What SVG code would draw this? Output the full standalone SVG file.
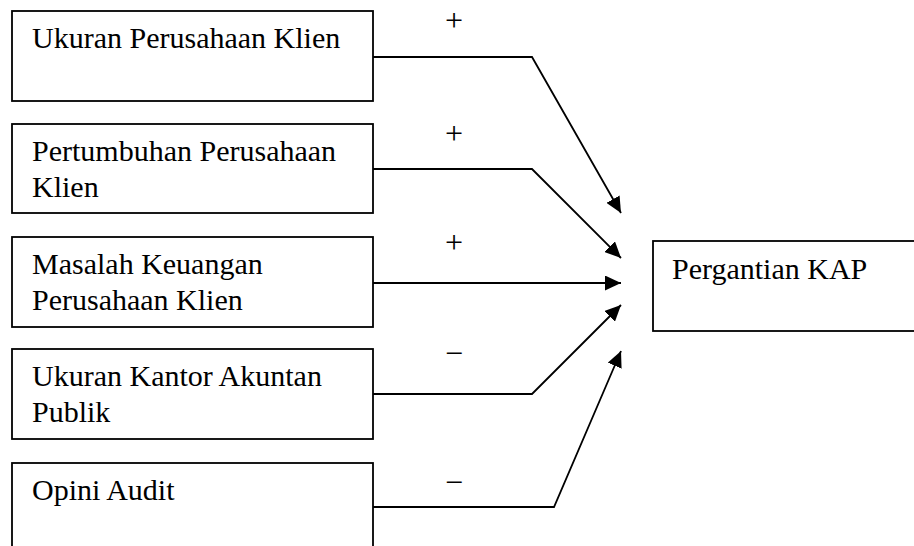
<svg xmlns="http://www.w3.org/2000/svg" width="914" height="546" viewBox="0 0 914 546">
  <style>
    .box { fill: #ffffff; stroke: #000000; stroke-width: 1.8; }
    .lbl { font-family: "Liberation Serif", "Times New Roman", serif; font-size: 30px; fill: #000000; }
    .sign { font-family: "Liberation Serif", "Times New Roman", serif; font-size: 32px; fill: #000000; text-anchor: middle; }
    .conn { fill: none; stroke: #000000; stroke-width: 1.8; }
  </style>
  <defs>
    <marker id="arrow" markerUnits="userSpaceOnUse" markerWidth="17" markerHeight="15" refX="16" refY="7.5" orient="auto">
      <path d="M0,0 L16,7.5 L0,15 z" fill="#000000"/>
    </marker>
  </defs>
  <rect x="0" y="0" width="914" height="546" fill="#ffffff"/>

  <g id="node-ukuran-perusahaan">
    <rect class="box" x="12" y="11" width="361" height="90"/>
    <text class="lbl" x="32" y="48">Ukuran Perusahaan Klien</text>
  </g>
  <g id="node-pertumbuhan">
    <rect class="box" x="12" y="124" width="361" height="89"/>
    <text class="lbl" x="32" y="161">Pertumbuhan Perusahaan</text>
    <text class="lbl" x="32" y="197">Klien</text>
  </g>
  <g id="node-masalah-keuangan">
    <rect class="box" x="12" y="237" width="361" height="90"/>
    <text class="lbl" x="32" y="274">Masalah Keuangan</text>
    <text class="lbl" x="32" y="310">Perusahaan Klien</text>
  </g>
  <g id="node-ukuran-kap">
    <rect class="box" x="12" y="349" width="361" height="90"/>
    <text class="lbl" x="32" y="386">Ukuran Kantor Akuntan</text>
    <text class="lbl" x="32" y="422">Publik</text>
  </g>
  <g id="node-opini-audit">
    <rect class="box" x="12" y="463" width="361" height="100"/>
    <text class="lbl" x="32" y="500">Opini Audit</text>
  </g>
  <g id="node-pergantian-kap">
    <rect class="box" x="653" y="241" width="280" height="90"/>
    <text class="lbl" x="672" y="279">Pergantian KAP</text>
  </g>

  <g id="connectors">
    <polyline class="conn" points="373,57 532,57 621,213" marker-end="url(#arrow)"/>
    <polyline class="conn" points="373,169 532,169 621,258" marker-end="url(#arrow)"/>
    <polyline class="conn" points="373,283 621,283" marker-end="url(#arrow)"/>
    <polyline class="conn" points="373,394 532,394 621,305" marker-end="url(#arrow)"/>
    <polyline class="conn" points="373,507 554,507 621,351" marker-end="url(#arrow)"/>
    <text class="sign" x="454" y="31">+</text>
    <text class="sign" x="454" y="144">+</text>
    <text class="sign" x="454" y="253">+</text>
    <text class="sign" x="454" y="364">−</text>
    <text class="sign" x="454" y="493">−</text>
  </g>
</svg>
